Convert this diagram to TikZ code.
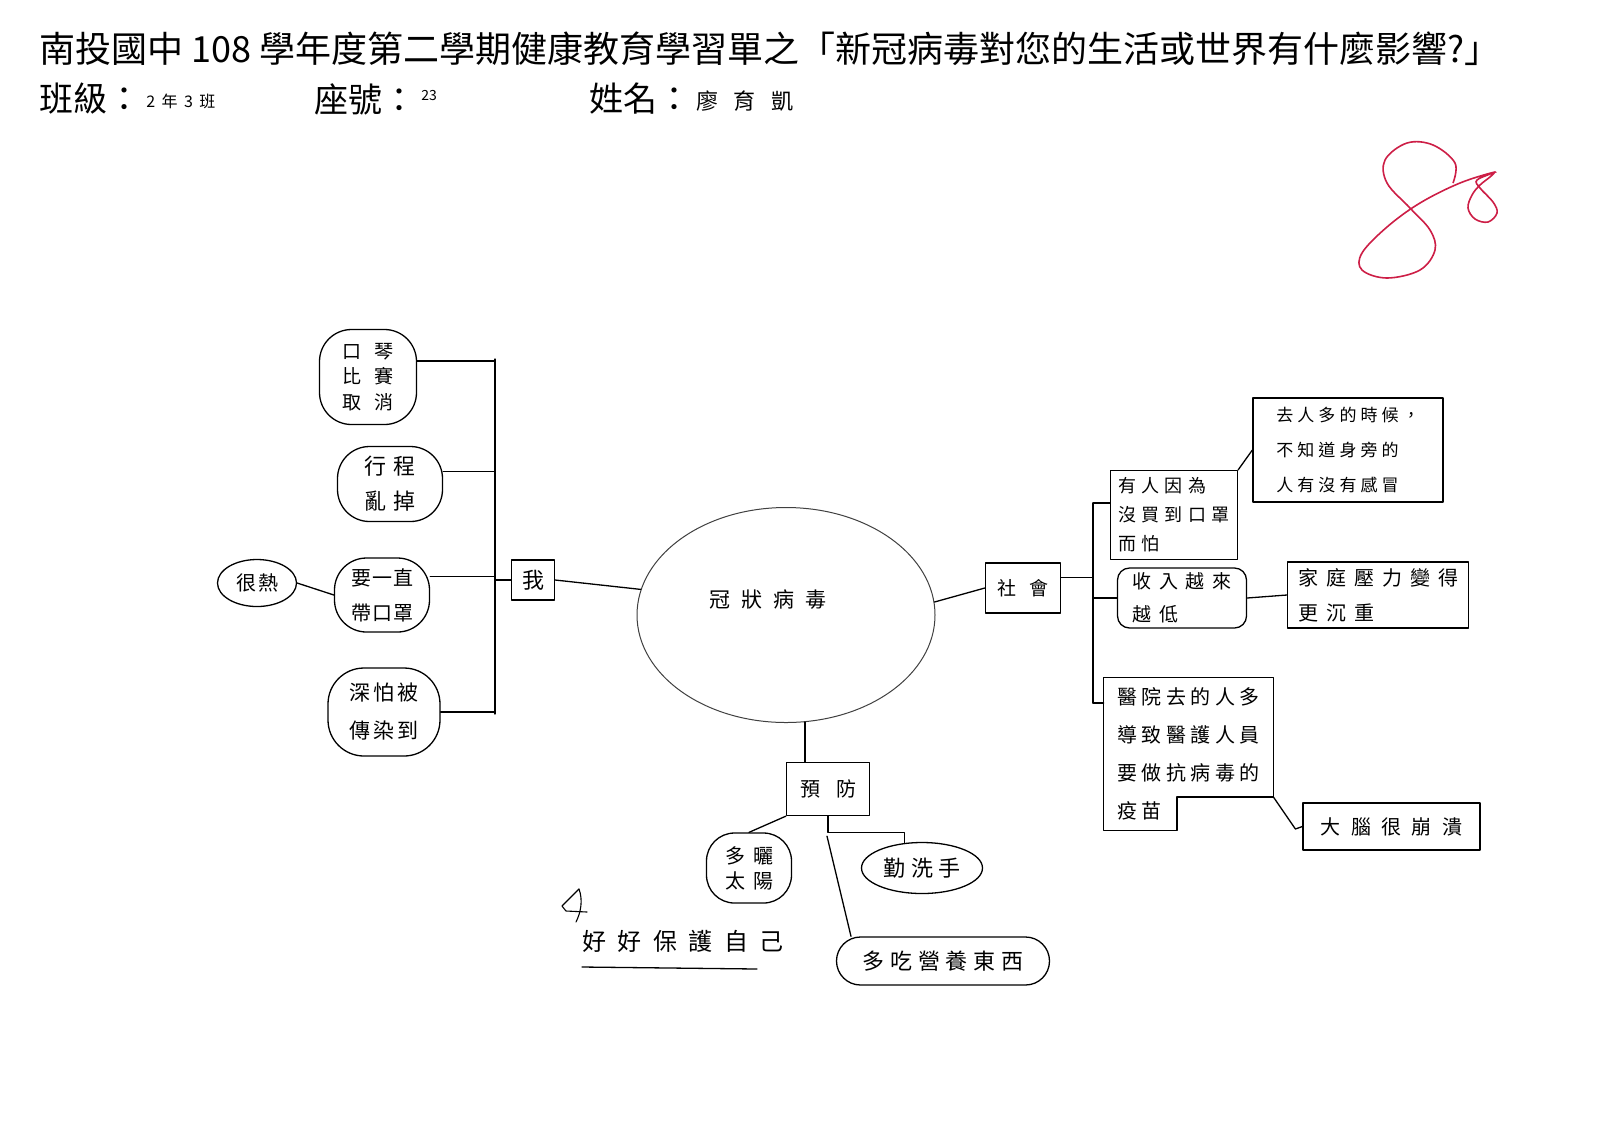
\documentclass[tikz,border=0pt]{standalone}
\usepackage{fontspec}
\setmainfont{Noto Sans CJK TC}
\newfontfamily\hw{Noto Sans CJK TC}
\newcommand\hwf[3]{\hw\fontsize{#1}{#2}\selectfont\addfontfeature{LetterSpace=#3}}
\newcommand\hdr{\fontsize{18}{20}\selectfont}
\newcommand\hdrb{\fontsize{17}{20}\selectfont}
\usetikzlibrary{shapes.geometric}
\definecolor{grade}{RGB}{205,30,70}
\tikzset{
 ink/.style={line width=0.65pt, line cap=round, line join=round},
 txt/.style={inner sep=0pt},
 bubble/.style={draw, ink, rounded corners=13pt, align=center, inner sep=0pt},
 oval/.style={draw, ink, ellipse, align=center, inner sep=0pt},
 card/.style={draw, ink, rectangle, align=left, inner sep=0pt},
}
\begin{document}
\begin{tikzpicture}[x=0.5pt,y=-0.5pt]
\useasboundingbox (0,0) rectangle (1600,1131);
\fill[white] (0,0) rectangle (1600,1131);

% header
\node[txt, anchor=west, font=\hdr] (h1) at (39,49) {南投國中 108 學年度第二學期健康教育學習單之「新冠病毒對您的生活或世界有什麼影響?」};
\node[txt, anchor=west, font=\hdrb] (cl) at (39,99) {班級：};
\node[txt, anchor=west, font=\hwf{8}{10}{40}] (clv) at (146,101) {2年3班};
\node[txt, anchor=west, font=\hdrb] (sn) at (314,99) {座號：};
\node[txt, anchor=west, font=\hwf{7}{9}{0}] (snv) at (421,96) {23};
\node[txt, anchor=west, font=\hdrb] (nm) at (589,99) {姓名：};
\node[txt, anchor=west, font=\hwf{11}{13}{70}] (nmv) at (696,101) {廖育凱};

% grade
\draw[grade, line width=0.8pt] plot[smooth, tension=0.6] coordinates {
 (1453,183) (1455,163) (1433,145) (1407,143) (1385,160) (1387,183) (1410,208)
 (1430,230) (1435,250) (1420,270) (1387,278) (1362,270) (1362,253) (1387,227)
 (1420,203) (1460,183) (1495,172) (1477,180) (1480,188) (1493,202) (1497,213)
 (1488,222) (1475,219) (1468,208) (1472,195) (1480,185) (1490,177) (1495,172)};

% central
\node[draw=black!75, line width=0.5pt, ellipse, minimum width=149pt, minimum height=107.5pt] (virus) at (786,615) {};
\node[txt, font=\hwf{10.5}{12}{52}] (vt) at (768,600) {冠狀病毒};

% left branch
\node[bubble, rounded corners=16pt, minimum width=48.5pt, minimum height=47.5pt, font=\hwf{9.5}{12.75}{70}] (kq) at (368,377) {口琴\\比賽\\取消};
\node[bubble, rounded corners=16pt, minimum width=52.5pt, minimum height=37.5pt, font=\hwf{11}{17.5}{36}] (xc) at (390,484) {行程\\亂掉};
\node[bubble, rounded corners=16pt, minimum width=47.5pt, minimum height=37pt, font=\hwf{10}{17.5}{5}] (yz) at (382,595) {要一直\\帶口罩};
\node[oval, minimum width=39.5pt, minimum height=23.5pt, font=\hwf{10}{12}{10}] (hr) at (257,583) {很熱};
\node[bubble, rounded corners=18pt, minimum width=56pt, minimum height=44pt, font=\hwf{10.5}{19}{15}] (sp) at (384,712) {深怕被\\傳染到};
\node[card, align=center, minimum width=21.5pt, minimum height=20pt, font=\hwf{11}{12}{0}] (wo) at (533,580) {我};

\coordinate (lbT) at (495,359);
\coordinate (lbB) at (495,714);
\draw[ink] (lbT) -- (lbB);
\draw[ink] (kq.18) -- (kq.18 -| lbT);
\draw[ink] (xc.13) -- (xc.13 -| lbT);
\draw[ink] (yz.21) -- (yz.21 -| lbT);
\draw[ink] (sp.east) -- (sp.east -| lbT);
\draw[ink] (wo.west) -- (wo.west -| lbT);
\draw[ink] (hr.east) -- (yz.west);
\draw[ink] (wo.east) -- (virus.170);

% right branch
\node[card, align=center, minimum width=37.5pt, minimum height=25pt, font=\hwf{9.5}{12}{70}] (sh) at (1023,588) {社會};
\node[card, minimum width=63.5pt, minimum height=44.5pt, font=\hwf{9}{14.5}{28}] (yr) at (1174,515) {有人因為\\沒買到口罩\\而怕};
\node[card, minimum width=95pt, minimum height=52pt, font=\hwf{8.5}{17.5}{24}] (qr) at (1348,450) {去人多的時候，\\不知道身旁的\\人有沒有感冒};
\node[card, rounded corners=6pt, minimum width=64.5pt, minimum height=30pt, font=\hwf{9.5}{16.5}{42}] (sr) at (1182,598) {收入越來\\越低};
\node[card, minimum width=90.5pt, minimum height=33pt, font=\hwf{10}{17.5}{40}] (jt) at (1378,595) {家庭壓力變得\\更沉重};
\node[txt, align=left, minimum width=84.5pt, minimum height=76pt, font=\hwf{10}{19}{22}] (yy) at (1188.5,754) {醫院去的人多\\導致醫護人員\\要做抗病毒的\\疫苗};
\node[card, align=center, minimum width=88.5pt, minimum height=23.5pt, font=\hwf{10}{12}{52}] (dn) at (1391.5,826.5) {大腦很崩潰};

\coordinate (yyn) at (1177,797);
\draw[ink] (yy.north west) -- (yy.north east) -- (yy.east |- yyn) -- (yyn) -- (yyn |- yy.south) -- (yy.south west) -- cycle;

\draw[ink] (virus.5) -- (sh.west);
\coordinate (rbT) at (1093,503);
\coordinate (rbB) at (1093,703);
\draw[ink] (rbT) -- (rbB);
\draw[ink] (sh.15) -- (sh.15 -| rbT);
\draw[ink] (rbT) -- (rbT -| yr.west);
\draw[ink] (sr.west) -- (sr.west -| rbT);
\draw[ink] (rbB) -- (rbB -| yy.west);
\draw[ink] (yr.north east) -- (qr.west);
\draw[ink] (sr.east) -- (jt.west);
\draw[ink] (yy.east |- yyn) -- ++(22,32) -- (dn.west);

% bottom branch
\node[card, align=center, minimum width=41.5pt, minimum height=26.5pt, font=\hwf{10}{12}{80}] (yf) at (828,789) {預防};
\node[bubble, rounded corners=14pt, minimum width=42.5pt, minimum height=35pt, font=\hwf{10}{12.5}{40}] (ds) at (749,868) {多曬\\太陽};
\node[oval, minimum width=60.5pt, minimum height=25.5pt, font=\hwf{11}{12}{25}] (qx) at (922,868) {勤洗手};
\node[bubble, rounded corners=12pt, minimum width=106.5pt, minimum height=24pt, font=\hwf{11}{12}{27}] (dc) at (943,961) {多吃營養東西};
\node[txt, font=\hwf{12}{14}{48}] (hh) at (683,941) {好好保護自己};

\draw[ink] (virus.-80) -- (virus.-80 |- yf.north);
\draw[ink] (yf.south west) -- (ds.north);
\draw[ink] (yf.south) -- ++(0,16) -| (qx.125);
\draw[ink] (yf.south) ++(-1,20) -- (dc.165);

\coordinate (u1) at (582,967);
\coordinate (u2) at (757,969);
\draw[ink] (u1) -- (u2);

% small mark
\draw[ink, line width=0.55pt] (579,889) -- (562,906) -- (566,911) -- (587,912);
\draw[ink, line width=0.55pt] (579,889) .. controls (583,900) and (581,912) .. (576,922);
\end{tikzpicture}
\end{document}
